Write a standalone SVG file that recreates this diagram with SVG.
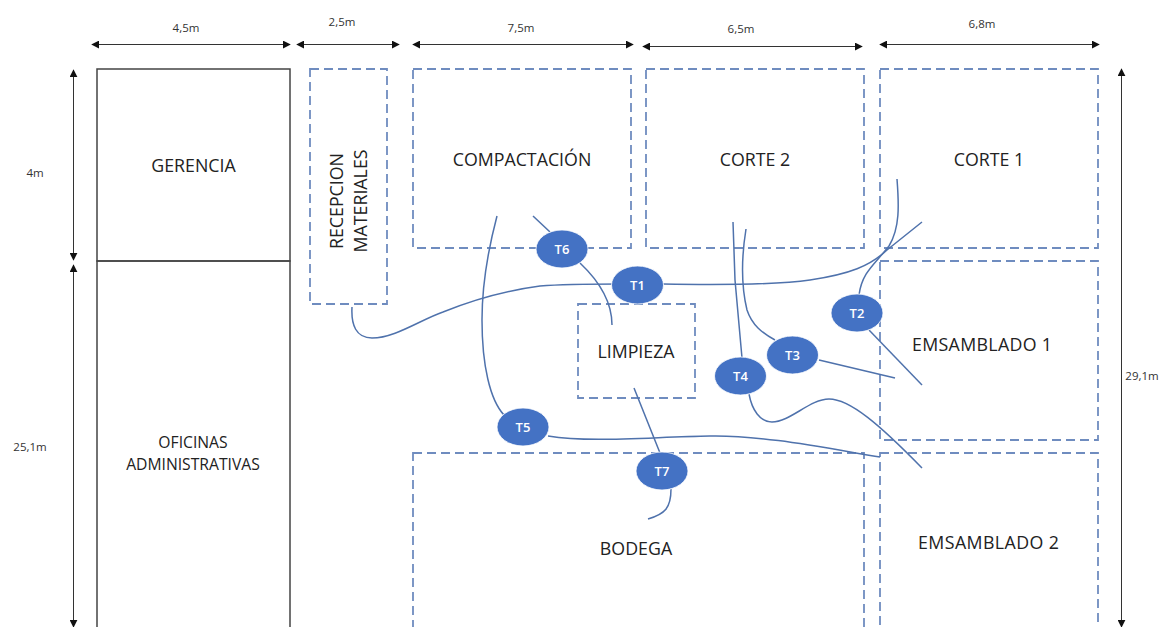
<svg xmlns="http://www.w3.org/2000/svg" width="1161" height="627" viewBox="0 0 1161 627">
<style>
.room{fill:none;stroke:#6f8cbf;stroke-width:1.8;stroke-dasharray:9 5}
.solid{fill:none;stroke:#444;stroke-width:1.5}
.dim{fill:none;stroke:#333;stroke-width:1;marker-start:url(#a);marker-end:url(#a)}
.c{fill:none;stroke:#4f72ac;stroke-width:1.5}
.t{fill:#4472c4;stroke:#fff;stroke-width:.8}
text{font-family:"Open Sans","Noto Sans",sans-serif;text-anchor:middle}
.l{font-size:17.800px;fill:#222}
.o{font-size:15.700px;fill:#222}
.d{font-size:11.500px;fill:#333}
.n{font-size:13px;font-weight:600;fill:#fff}
</style>
<defs><marker id="a" viewBox="0 0 10 10" refX="9" refY="5" markerWidth="8" markerHeight="8" markerUnits="userSpaceOnUse" orient="auto-start-reverse"><path d="M0 0L10 5L0 10z" fill="#111"/></marker></defs>
<rect width="1161" height="627" fill="#fff"/>
<g id="dimensions">
<path class="dim" d="M92 44.500H290"/><path class="dim" d="M297 44.500H399"/><path class="dim" d="M413 44.500H633"/><path class="dim" d="M643 46.500H862"/><path class="dim" d="M880 44.500H1099"/>
<path class="dim" d="M73.500 70V260"/><path class="dim" d="M73.500 265V627"/><path class="dim" d="M1121.500 69V627"/>
<text class="d" x="186" y="32">4,5m</text><text class="d" x="342" y="26">2,5m</text><text class="d" x="521" y="32">7,5m</text><text class="d" x="741" y="33">6,5m</text><text class="d" x="982" y="28">6,8m</text>
<text class="d" x="35" y="177">4m</text><text class="d" x="30" y="451">25,1m</text><text class="d" x="1142" y="380">29,1m</text>
</g>
<g id="gerencia"><rect class="solid" x="97" y="69" width="193" height="192"/><text class="l" x="193.500" y="172">GERENCIA</text></g>
<g id="oficinas"><rect class="solid" x="97" y="261" width="193" height="380"/><text class="o" x="193" y="448">OFICINAS</text><text class="o" x="193" y="470">ADMINISTRATIVAS</text></g>
<g id="recepcion"><rect class="room" x="310" y="69" width="77" height="235"/><text class="l" transform="translate(343 201) rotate(-90)">RECEPCION</text><text class="l" transform="translate(367 201) rotate(-90)">MATERIALES</text></g>
<g id="compactacion"><rect class="room" x="413" y="69" width="218" height="179"/><text class="l" x="522" y="166">COMPACTACIÓN</text></g>
<g id="corte2"><rect class="room" x="646" y="69" width="218" height="179"/><text class="l" x="755" y="166">CORTE 2</text></g>
<g id="corte1"><rect class="room" x="880" y="69" width="218" height="179"/><text class="l" x="989" y="166">CORTE 1</text></g>
<g id="emsamblado1"><rect class="room" x="880" y="261" width="218" height="179"/><text class="l" x="982" y="351" textLength="140">EMSAMBLADO 1</text></g>
<g id="emsamblado2"><rect class="room" x="880" y="453" width="218" height="190"/><text class="l" x="988.500" y="549" textLength="141">EMSAMBLADO 2</text></g>
<g id="bodega"><rect class="room" x="413" y="453" width="451" height="190"/><text class="l" x="636" y="555">BODEGA</text></g>
<g id="limpieza"><rect class="room" x="578" y="304" width="117" height="94"/><text class="l" x="636" y="358">LIMPIEZA</text></g>
<g id="connectors">
<path class="c" d="M352 307C351 325 356 338 372 338C395 338 420 320 443 312C475 299 510 290 540 286C565 284 595 284 620 284"/>
<path class="c" d="M663 284C720 285 775 285 810 280C850 274 870 266 887 250L922 222"/>
<path class="c" d="M497 216C488 250 482 285 482 320C482 365 490 400 504 415"/>
<path class="c" d="M533 216L550 232"/>
<path class="c" d="M580 263C598 280 612 300 612 325"/>
<path class="c" d="M897 179C899 205 900 228 889 246C875 264 862 272 859 295"/>
<path class="c" d="M869 330L922 385"/>
<path class="c" d="M746 229C741 260 741 285 747 310C752 325 762 333 775 340"/>
<path class="c" d="M819 360L895 378"/>
<path class="c" d="M733 222L735 280L742 358"/>
<path class="c" d="M749 394C752 410 760 422 772 422C790 422 810 399 829 399C850 399 880 425 922 468"/>
<path class="c" d="M548 436C590 443 650 437 710 436C760 435 820 447 880 457"/>
<path class="c" d="M634 388L660 453"/>
<path class="c" d="M671 489C671 508 665 514 648 519"/>
</g>
<g id="t1"><ellipse class="t" cx="637.500" cy="285" rx="26" ry="19"/><text class="n" x="637.500" y="290">T1</text></g>
<g id="t2"><ellipse class="t" cx="857" cy="313" rx="26" ry="19"/><text class="n" x="857" y="318">T2</text></g>
<g id="t3"><ellipse class="t" cx="792.500" cy="355" rx="26" ry="19"/><text class="n" x="792.500" y="360">T3</text></g>
<g id="t4"><ellipse class="t" cx="740.500" cy="376" rx="26" ry="19"/><text class="n" x="740.500" y="381">T4</text></g>
<g id="t5"><ellipse class="t" cx="523" cy="427" rx="26" ry="19"/><text class="n" x="523" y="432">T5</text></g>
<g id="t6"><ellipse class="t" cx="562" cy="249" rx="26" ry="19"/><text class="n" x="562" y="254">T6</text></g>
<g id="t7"><ellipse class="t" cx="662" cy="471" rx="26" ry="19"/><text class="n" x="662" y="476">T7</text></g>
</svg>
